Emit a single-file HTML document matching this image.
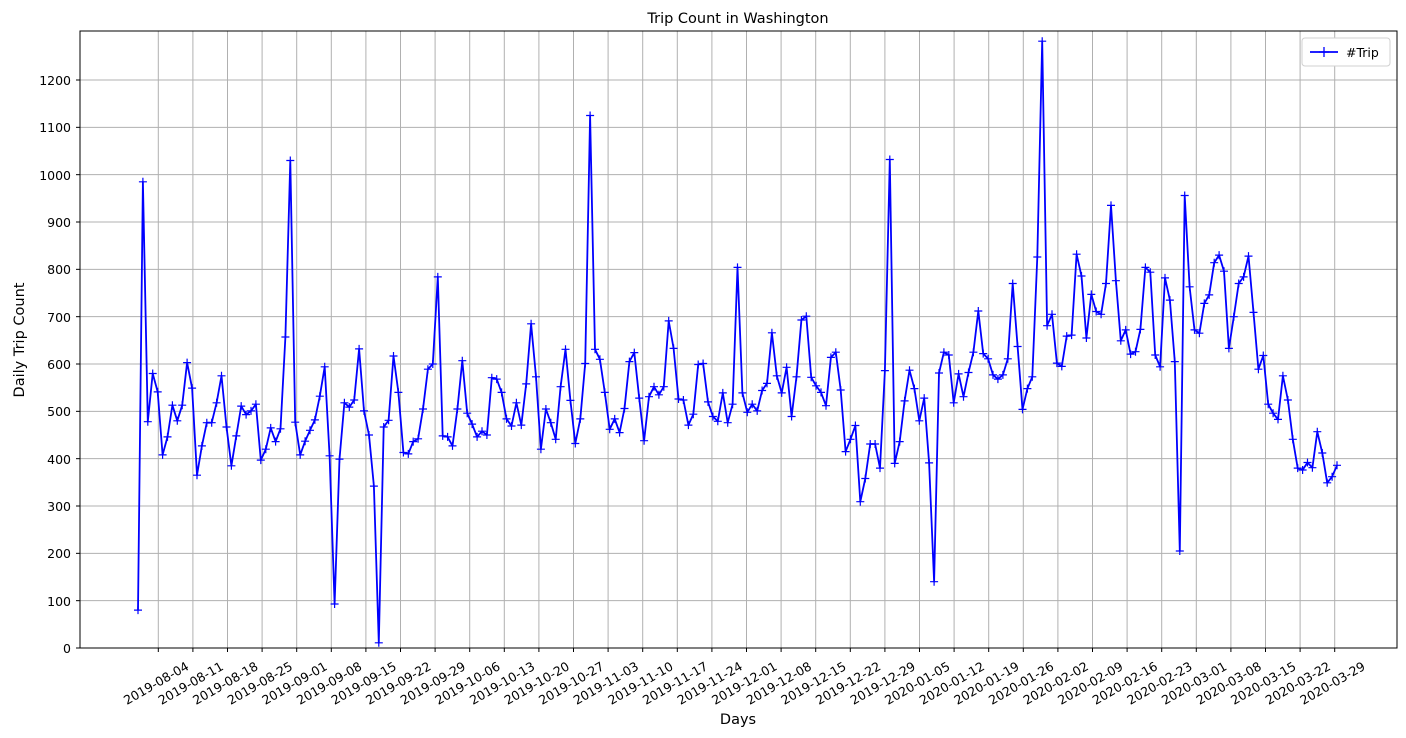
<!DOCTYPE html>
<html><head><meta charset="utf-8"><style>
html,body{margin:0;padding:0;background:#fff;}
svg{display:block;font-family:"DejaVu Sans","Liberation Sans",sans-serif;}
</style></head><body>
<svg id="s" width="1406" height="738" viewBox="0 0 1406 738" xmlns="http://www.w3.org/2000/svg">
<rect x="0" y="0" width="1406" height="738" fill="#fff"/>
<g id="grid" stroke="#b0b0b0" stroke-width="1"></g>
<g id="ticks" stroke="#000" stroke-width="1"></g>
<g id="data"></g>
<rect x="80" y="31" width="1317" height="617" fill="none" stroke="#000" stroke-width="1"/>
<text x="738" y="23" font-size="14.5" text-anchor="middle">Trip Count in Washington</text>
<text x="738" y="724" font-size="14.5" text-anchor="middle">Days</text>
<text transform="translate(24,340) rotate(-90)" font-size="14.5" text-anchor="middle">Daily Trip Count</text>
<g font-size="12.5" text-anchor="end">
<text x="71" y="653">0</text><text x="71" y="606">100</text><text x="71" y="558">200</text>
<text x="71" y="511">300</text><text x="71" y="464">400</text><text x="71" y="416">500</text>
<text x="71" y="369">600</text><text x="71" y="322">700</text><text x="71" y="274">800</text>
<text x="71" y="227">900</text><text x="71" y="180">1000</text><text x="71" y="132">1100</text>
<text x="71" y="85">1200</text>
</g>
<g id="xl" font-size="12.5" text-anchor="middle">
<text>2019-08-04</text><text>2019-08-11</text><text>2019-08-18</text><text>2019-08-25</text>
<text>2019-09-01</text><text>2019-09-08</text><text>2019-09-15</text><text>2019-09-22</text>
<text>2019-09-29</text><text>2019-10-06</text><text>2019-10-13</text><text>2019-10-20</text>
<text>2019-10-27</text><text>2019-11-03</text><text>2019-11-10</text><text>2019-11-17</text>
<text>2019-11-24</text><text>2019-12-01</text><text>2019-12-08</text><text>2019-12-15</text>
<text>2019-12-22</text><text>2019-12-29</text><text>2020-01-05</text><text>2020-01-12</text>
<text>2020-01-19</text><text>2020-01-26</text><text>2020-02-02</text><text>2020-02-09</text>
<text>2020-02-16</text><text>2020-02-23</text><text>2020-03-01</text><text>2020-03-08</text>
<text>2020-03-15</text><text>2020-03-22</text><text>2020-03-29</text>
</g>
<rect x="1302" y="38" width="88" height="28" rx="3" fill="#fff" stroke="#d0d0d0"/>
<line x1="1310" y1="52" x2="1338" y2="52" stroke="#0000ff" stroke-width="1.8"/>
<path d="M1324 47v10M1319 52h10" stroke="#0000ff" stroke-width="1.3"/>
<text x="1346" y="57" font-size="12.5">#Trip</text>
</svg>
<script>
var NS="http://www.w3.org/2000/svg";
function el(p,t,a){var e=document.createElementNS(NS,t);for(var k in a)e.setAttribute(k,a[k]);p.appendChild(e);return e;}
var g=document.getElementById('grid'),tk=document.getElementById('ticks');
for(var v=0;v<=1200;v+=100){var y=648-v*0.47333;el(g,'line',{x1:80,x2:1397,y1:y,y2:y});el(tk,'line',{x1:76,x2:80,y1:y,y2:y});}
var xs=document.getElementById('xl').children;
for(var k=0;k<35;k++){var x=158.3+34.6*k;el(g,'line',{x1:x,x2:x,y1:31,y2:648});el(tk,'line',{x1:x,x2:x,y1:648,y2:652});
xs[k].setAttribute('transform','translate('+x+',687) rotate(-30)');}
var d=[80,985,478,580,541,408,446,513,480,513,603,549,365,427,476,476,518,575,467,385,448,511,493,501,515,397,420,465,436,463,657,1030,477,408,437,460,482,532,594,406,
93,399,518,509,524,632,501,450,342,11,467,481,617,540,413,410,436,442,505,589,600,784,448,446,427,505,607,496,473,446,458,450,571,568,540,484,469,518,471,
558,685,573,420,505,476,441,552,631,523,432,484,601,1125,631,610,540,462,484,455,506,605,624,528,438,531,552,535,552,691,633,526,524,471,494,599,601,520,489,
479,539,476,515,804,539,498,515,501,544,559,666,575,539,593,489,573,693,701,572,554,540,512,614,625,545,415,441,470,309,358,431,431,380,586,1032,390,436,522,587,
548,480,528,391,140,581,625,619,518,579,531,582,625,712,622,611,577,568,577,611,770,637,504,548,573,826,1282,681,705,602,595,659,661,832,786,655,747,711,705,770,935,776,649,672,
621,626,673,804,794,619,594,782,735,605,205,956,763,672,665,728,746,814,830,796,633,700,770,784,828,709,589,618,515,496,483,575,524,441,380,376,392,381,457,412,349,362,386];
var n=d.length,pts=[],m='';
for(var i=0;i<n;i++){var x=138+(1337-138)*i/(n-1),y=648-d[i]*0.47333;pts.push(x.toFixed(1)+','+y.toFixed(1));
m+='M'+x.toFixed(1)+' '+(y-4).toFixed(1)+'v8M'+(x-4).toFixed(1)+' '+y.toFixed(1)+'h8';}
var dg=document.getElementById('data');
el(dg,'polyline',{points:pts.join(' '),fill:'none',stroke:'#0000ff','stroke-width':1.8,'stroke-linejoin':'round'});
el(dg,'path',{d:m,stroke:'#0000ff','stroke-width':1.2,fill:'none'});
</script>
</body></html>
